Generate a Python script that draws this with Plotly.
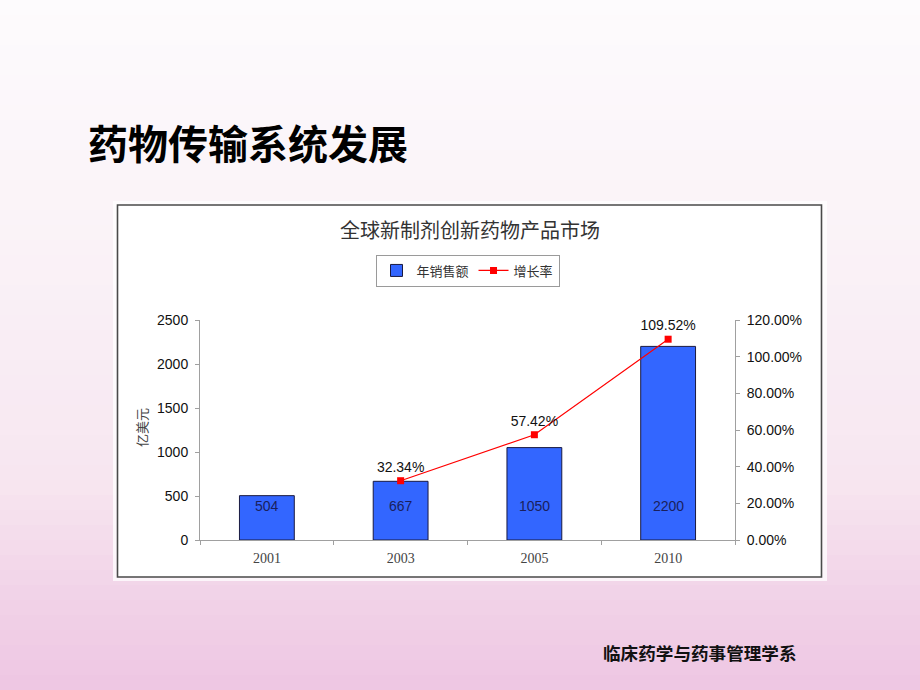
import plotly.graph_objects as go

# ---- data ----
years = ["2001", "2003", "2005", "2010"]
sales = [504, 667, 1050, 2200]
growth_years = ["2003", "2005", "2010"]
growth = [0.3234, 0.5742, 1.0952]
growth_labels = ["32.34%", "57.42%", "109.52%"]

slide_title = "药物传输系统发展"
chart_title = "全球新制剂创新药物产品市场"
footer = "临床药学与药事管理学系"
y_title = "亿美元"
bar_name = "年销售额"
line_name = "增长率"

# ---- geometry helpers (pixel -> paper) ----
W, H = 920, 690
PL, PR, PT, PB = 200, 735, 320, 540


def px(x):
    return (x - PL) / (PR - PL)


def py(y):
    return (PB - y) / (PB - PT)


fig = go.Figure()

fig.add_trace(go.Bar(
    x=years, y=sales, name=bar_name,
    marker=dict(color="#3366FF", line=dict(color="#1a1a40", width=1)),
    width=0.41, yaxis="y",
))

fig.add_trace(go.Scatter(
    x=growth_years, y=growth, name=line_name, yaxis="y2",
    mode="lines+markers+text",
    line=dict(color="#FF0000", width=1.2),
    marker=dict(symbol="square", size=7, color="#FF0000"),
    text=growth_labels, textposition="top center",
    textfont=dict(family="Liberation Sans, Arial", size=14, color="#111111"),
))

shapes = []


def lerp(c1, c2, t):
    return tuple(round(a + (b - a) * t) for a, b in zip(c1, c2))


stops = [(0, (253, 251, 253)), (250, (250, 242, 247)), (480, (247, 230, 240)),
         (600, (241, 210, 231)), (690, (238, 198, 227))]
n = 46
for i in range(n):
    y0 = i * H / n
    y1 = (i + 1) * H / n
    ym = (y0 + y1) / 2
    for j in range(len(stops) - 1):
        if stops[j][0] <= ym <= stops[j + 1][0]:
            t = (ym - stops[j][0]) / (stops[j + 1][0] - stops[j][0])
            c = lerp(stops[j][1], stops[j + 1][1], t)
            break
    shapes.append(dict(type="rect", xref="paper", yref="paper",
                       x0=px(0), x1=px(W), y0=py(y1 + 0.5), y1=py(y0),
                       fillcolor="rgb(%d,%d,%d)" % c, line=dict(width=0), layer="below"))
# white halo around chart box
shapes.append(dict(type="rect", xref="paper", yref="paper",
                   x0=px(113), x1=px(827), y0=py(581), y1=py(201),
                   fillcolor="rgba(255,255,255,0.75)", line=dict(width=0), layer="below"))
# chart box
shapes.append(dict(type="rect", xref="paper", yref="paper",
                   x0=px(117.5), x1=px(821.5), y0=py(577), y1=py(205),
                   fillcolor="#FFFFFF", line=dict(color="#4a4a4a", width=1.6), layer="below"))

annotations = [
    dict(text=f"<b>{slide_title}</b>", xref="paper", yref="paper",
         x=px(86), y=py(142), xanchor="left", yanchor="middle", showarrow=False,
         font=dict(family="Noto Sans CJK SC", size=40, color="#000000")),
    dict(text=chart_title, xref="paper", yref="paper",
         x=px(470), y=py(229), xanchor="center", yanchor="middle", showarrow=False,
         font=dict(family="Noto Sans CJK SC", size=20, color="#333333")),
    dict(text=f"<b>{footer}</b>", xref="paper", yref="paper",
         x=px(601), y=py(652), xanchor="left", yanchor="middle", showarrow=False,
         font=dict(family="Noto Sans CJK SC", size=17.6, color="#111111")),
    dict(text=y_title, xref="paper", yref="paper", textangle=-90,
         x=px(141), y=py(428), xanchor="center", yanchor="middle", showarrow=False,
         font=dict(family="Noto Sans CJK SC", size=13, color="#444444")),
]
for idx, v in enumerate(sales):
    annotations.append(dict(text=str(v), x=idx, y=0, xref="x", yref="y",
                            yshift=34, showarrow=False, yanchor="middle",
                            font=dict(family="Liberation Sans, Arial", size=14, color="#1a1f5c")))

fig.update_layout(
    width=W, height=H,
    margin=dict(l=PL, r=W - PR, t=PT, b=H - PB, pad=0),
    paper_bgcolor="#fdfbfd",
    plot_bgcolor="rgba(0,0,0,0)",
    showlegend=True,
    legend=dict(orientation="h", x=0.5, xanchor="center", y=py(270.5), yanchor="middle",
                bgcolor="#FFFFFF", bordercolor="#9a9a9a", borderwidth=1,
                font=dict(family="Noto Sans CJK SC", size=13, color="#333333"),
                itemwidth=30, tracegroupgap=0),
    xaxis=dict(type="category", categoryorder="array", categoryarray=years,
               range=[-0.5, len(years) - 0.5], autorange=False,
               showline=True, linecolor="#a0a0a0", linewidth=1,
               ticks="outside", tickson="boundaries", ticklen=4, tickcolor="#a0a0a0",
               showgrid=False, zeroline=False, ticklabelstandoff=5,
               tickfont=dict(family="Liberation Serif, DejaVu Serif", size=14, color="#444444")),
    yaxis=dict(range=[0, 2500], dtick=500, showline=True, linecolor="#a0a0a0", linewidth=1,
               ticks="outside", ticklen=4, tickcolor="#a0a0a0", showgrid=False, zeroline=False,
               ticklabelstandoff=4,
               tickfont=dict(family="Liberation Sans, Arial", size=14, color="#111111")),
    yaxis2=dict(range=[0, 1.2], dtick=0.2, tickformat=".2%", overlaying="y", side="right",
                showline=True, linecolor="#a0a0a0", linewidth=1,
                ticks="outside", ticklen=4, tickcolor="#a0a0a0", showgrid=False, zeroline=False,
                ticklabelstandoff=4,
                tickfont=dict(family="Liberation Sans, Arial", size=14, color="#111111")),
    shapes=shapes,
    annotations=annotations,
    bargap=0.59,
)

fig.write_html("out.html")
